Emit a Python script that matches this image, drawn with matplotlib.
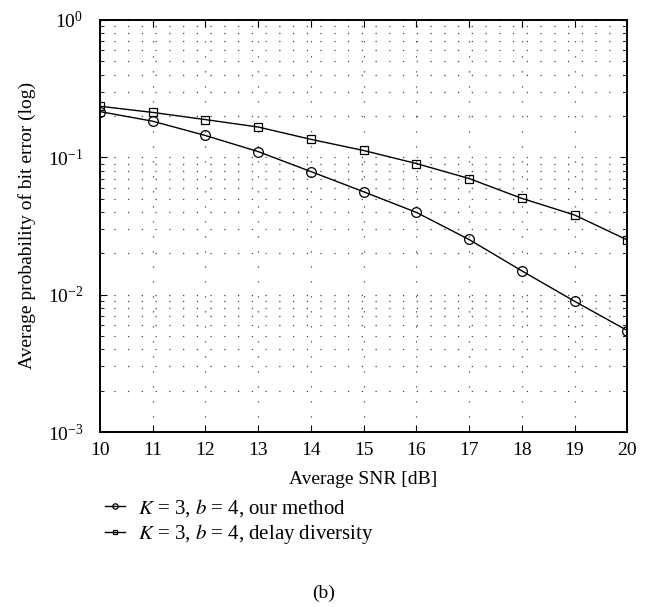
import numpy as np
import matplotlib.pyplot as plt
from matplotlib.ticker import LogLocator, NullFormatter

plt.rcParams['font.family'] = ['Liberation Serif', 'DejaVu Serif']
plt.rcParams['mathtext.fontset'] = 'stix'

# data
snr = [10, 11, 12, 13, 14, 15, 16, 17, 18, 19, 20]
ber_ours = [0.215, 0.183, 0.144, 0.110, 0.0787, 0.0561, 0.0397, 0.0252, 0.0149, 0.00895, 0.00548]
ber_delay = [0.235, 0.212, 0.188, 0.166, 0.135, 0.112, 0.090, 0.070, 0.0502, 0.038, 0.0250]
labels = [r'$K$ = 3, $b$ = 4, our method', r'$K$ = 3, $b$ = 4, delay diversity']

fig = plt.figure(figsize=(6.48, 6.07), dpi=100)
ax = fig.add_axes([0.154, 0.2883, 0.814, 0.679])

ax.semilogy(snr, ber_ours, '-o', color='black', lw=1.0, ms=7, mfc='none', mew=0.9, label=labels[0])
ax.semilogy(snr, ber_delay, '-s', color='black', lw=1.0, ms=6, mfc='none', mew=0.9, label=labels[1])

ax.set_xlim(10, 20)
ax.set_ylim(1e-3, 1)
ax.set_xticks(snr)
ax.yaxis.set_major_locator(LogLocator(base=10, numticks=10))
ax.yaxis.set_minor_locator(LogLocator(base=10, subs=np.arange(2, 10), numticks=20))
ax.yaxis.set_minor_formatter(NullFormatter())

ax.grid(True, which='major', axis='x', linestyle=(0, (1, 11)), color='#444444', lw=0.9)
ax.grid(True, which='both', axis='y', linestyle=(0, (1, 10)), color='#444444', lw=0.9)

ax.tick_params(which='both', direction='in', top=True, right=True, labelsize=14)
ax.tick_params(which='major', length=5)
ax.tick_params(which='minor', length=3)
ax.tick_params(axis='x', pad=7)
ax.tick_params(axis='y', pad=12)
for s in ax.spines.values():
    s.set_linewidth(1.4)

ax.set_xlabel('Average SNR [dB]', fontsize=14, labelpad=9)
ax.set_ylabel('Average probability of bit error (log)', fontsize=14, labelpad=8)

ax.legend(loc='upper left', bbox_to_anchor=(-0.005, -0.138), frameon=False, fontsize=15,
          handlelength=0.95, handletextpad=0.6, labelspacing=0.15, markerscale=0.55,
          borderaxespad=0)

fig.text(0.5, 0.022, '(b)', ha='center', va='center', fontsize=14)

fig.savefig('out.png', dpi=100)
